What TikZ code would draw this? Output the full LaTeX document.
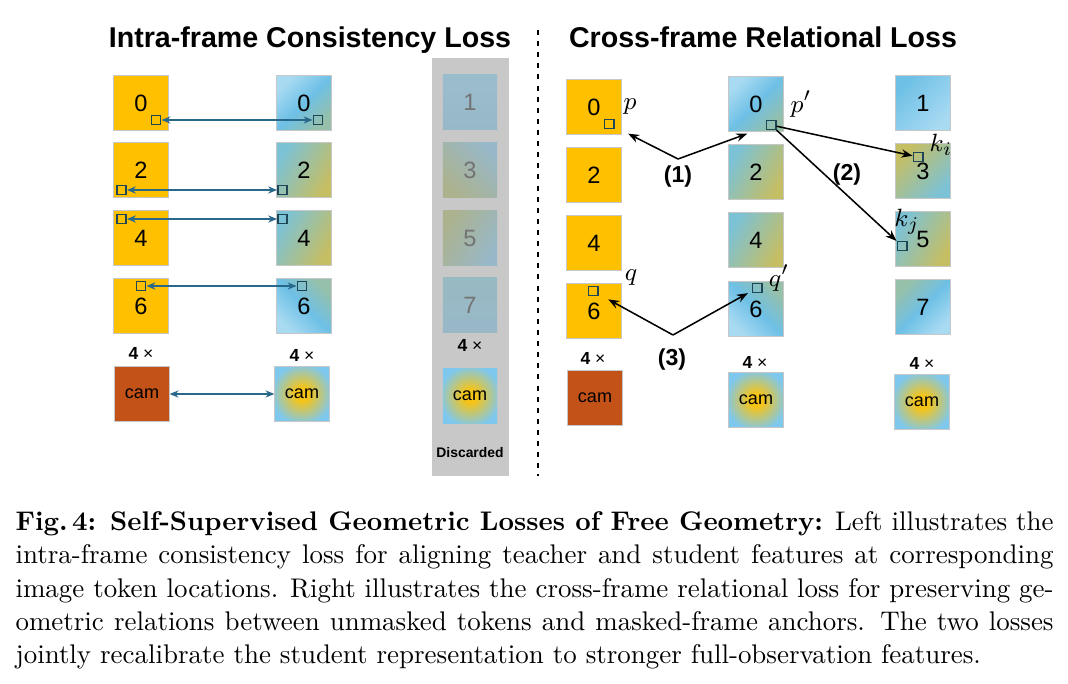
\documentclass[tikz,border=0pt]{standalone}
\usepackage{fontspec}
\setsansfont{Liberation Sans}
\usepackage{tikz}
\usetikzlibrary{arrows.meta}

\definecolor{gold}{RGB}{255,192,0}
\definecolor{rust}{RGB}{194,82,24}
\definecolor{skylight}{RGB}{168,218,242}
\definecolor{skymid}{RGB}{110,192,230}
\definecolor{tealmid}{RGB}{124,194,214}
\definecolor{olive}{RGB}{198,190,98}
\definecolor{sage}{RGB}{150,192,170}
\definecolor{camyellow}{RGB}{246,196,22}
\definecolor{camblue}{RGB}{126,200,238}
\definecolor{panelgray}{RGB}{200,200,200}
\definecolor{fadeblue}{RGB}{152,184,200}
\definecolor{fadeolive}{RGB}{172,178,142}
\definecolor{spotline}{RGB}{30,70,86}
\definecolor{pairblue}{RGB}{40,104,138}

\pgfdeclareradialshading{camglow}{\pgfpoint{0bp}{0bp}}{color(0bp)=(camyellow); color(6bp)=(camyellow); color(28bp)=(camblue); color(50bp)=(camblue)}

\begin{document}
\begin{tikzpicture}[x=0.36pt, y=-0.36pt,
  tile/.style={draw=black!22, line width=0.3pt, minimum size=19.6pt, inner sep=0pt,
    font=\sffamily\fontsize{8.5}{10}\selectfont},
  teacher/.style={tile, fill=gold},
  skytile/.style={tile, top color=skylight, bottom color=sage, middle color=skymid, shading angle=45},
  mixtile/.style={tile, top color=tealmid, bottom color=olive, shading angle=60},
  sagetile/.style={tile, top color=sage, bottom color=skylight, middle color=skymid, shading angle=-45},
  camtile/.style={tile, shade, shading=camglow, font=\sffamily\fontsize{6.5}{8}\selectfont},
  gone/.style={tile, draw=none, text=black!55},
  spot/.style={draw=spotline, line width=0.55pt, minimum size=3.4pt, inner sep=0pt},
  times/.style={font=\sffamily\fontsize{6.3}{7}\selectfont},
  pairarrow/.style={{Stealth[length=3.2pt,width=2.6pt]}-{Stealth[length=3.2pt,width=2.6pt]}, draw=pairblue, line width=0.5pt},
  relarrow/.style={-{Stealth[length=4pt,width=3pt]}, line width=0.55pt},
  steplabel/.style={font=\sffamily\bfseries\fontsize{8.3}{10}\selectfont},
  mlabel/.style={font=\fontsize{9.5}{11}\selectfont},
  title/.style={font=\sffamily\bfseries\fontsize{10.3}{12}\selectfont, anchor=base},
  caption/.style={anchor=north west, inner sep=0pt, text width=373.7pt, align=justify,
    font=\fontsize{9.7}{12}\selectfont}
]
\useasboundingbox (0,0) rectangle (1068,683);

%% Titles and divider
\node[title] (lefttitle) at (310,48) {Intra-frame Consistency Loss};
\node[title] (righttitle) at (763,48) {Cross-frame Relational Loss};
\draw[line width=0.75pt, dash pattern=on 1.8pt off 2.2pt] (538,30) -- (538,476);

%% Intra-frame: teacher column
\node[teacher] (t0) at (141,103) {0};
\node[teacher] (t2) at (141,170) {2};
\node[teacher] (t4) at (141,238) {4};
\node[teacher] (t6) at (141,306) {6};
\node[times] at (141,353) {\textbf{4} ×};
\node[tile, fill=rust] (tcam) at (142,394) {};
\node[font=\sffamily\fontsize{6.5}{8}\selectfont] at (tcam) {cam};

%% Intra-frame: student column
\node[skytile] (s0) at (304,103) {0};
\node[mixtile] (s2) at (304,170) {2};
\node[mixtile] (s4) at (304,238) {4};
\node[sagetile] (s6) at (304,306) {6};
\node[times] at (302,355) {\textbf{4} ×};
\node[camtile] (scam) at (302,394) {cam};

%% Discarded frames
\fill[panelgray] (432,58) rectangle (509,476);
\node[gone, top color=fadeblue!85!skylight, bottom color=fadeblue] (d1) at (470,102) {1};
\node[gone, top color=fadeblue, bottom color=fadeolive, shading angle=-45] (d3) at (470,170) {3};
\node[gone, top color=fadeolive, bottom color=fadeblue, shading angle=60] (d5) at (470,238) {5};
\node[gone, top color=fadeblue!80!sage, bottom color=fadeblue] (d7) at (470,305) {7};
\node[times] at (470,345) {\textbf{4} ×};
\node[camtile, draw=none] (dcam) at (470,396) {cam};
\node[font=\sffamily\bfseries\fontsize{5}{6}\selectfont] (dlabel) at (470,453) {Discarded};

%% Intra-frame token pairs
\node[spot] (ta0) at (156,120) {};
\node[spot] (sa0) at (318,120) {};
\node[spot] (ta2) at (121.5,190) {};
\node[spot] (sa2) at (282.5,190) {};
\node[spot] (ta4) at (121.5,219) {};
\node[spot] (sa4) at (282.5,219) {};
\node[spot] (ta6) at (141,286) {};
\node[spot] (sa6) at (302,286) {};
\draw[pairarrow] (ta0) -- (sa0);
\draw[pairarrow] (ta2) -- (sa2);
\draw[pairarrow] (ta4) -- (sa4);
\draw[pairarrow] (ta6) -- (sa6);
\draw[pairarrow] (tcam) -- (scam);

%% Cross-frame: teacher column
\node[teacher] (a0) at (594,107) {0};
\node[teacher] (a2) at (594,175) {2};
\node[teacher] (a4) at (594,243) {4};
\node[teacher] (a6) at (594,311) {6};
\node[times] at (593,358) {\textbf{4} ×};
\node[tile, fill=rust] (acam) at (595,398) {};
\node[font=\sffamily\fontsize{6.5}{8}\selectfont] at (acam) {cam};

%% Cross-frame: student columns
\node[skytile] (b0) at (756,104) {0};
\node[mixtile] (b2) at (756,172) {2};
\node[mixtile] (b4) at (756,240) {4};
\node[sagetile] (b6) at (756,309) {6};
\node[times] at (755,362) {\textbf{4} ×};
\node[camtile] (bcam) at (756,400) {cam};

\node[tile, top color=skymid, bottom color=skylight, shading angle=45] (c1) at (923,103) {1};
\node[tile, top color=tealmid, bottom color=olive, shading angle=-135] (c3) at (923,171) {3};
\node[mixtile] (c5) at (923,239) {5};
\node[tile, top color=sage, bottom color=skylight, middle color=skymid, shading angle=45] (c7) at (923,307) {7};
\node[times] at (922,363) {\textbf{4} ×};
\node[camtile] (ccam) at (922,402) {cam};

%% Cross-frame tokens
\node[spot] (p) at (609,124) {};
\node[spot] (pp) at (771,125) {};
\node[spot] (ki) at (918,157) {};
\node[spot] (kj) at (902,246) {};
\node[spot] (q) at (593,291) {};
\node[spot] (qp) at (757,288) {};
\node[mlabel] (plabel) at (630,107) {$p$};
\node[mlabel] (pplabel) at (801,104) {$p'$};
\node[mlabel] (kilabel) at (941,145) {$k_i$};
\node[mlabel] (kjlabel) at (907,222) {$k_j$};
\node[mlabel] (qlabel) at (631,278) {$q$};
\node[mlabel] (qplabel) at (779,278) {$q'$};

%% Relations (1) (2) (3)
\node[steplabel] (l1) at (678,177) {(1)};
\coordinate (c1tip) at (678,159);
\draw[relarrow, shorten >=5.5pt] (c1tip) -- (p);
\draw[relarrow, shorten >=7pt] (c1tip) -- (pp);
\node[steplabel] (l2) at (847,175) {(2)};
\draw[relarrow] (pp) -- (ki);
\draw[relarrow] (pp) -- (kj);
\node[steplabel] (l3) at (672,360) {(3)};
\coordinate (c3tip) at (673,335);
\draw[relarrow, shorten >=4pt] (c3tip) -- (q);
\draw[relarrow, shorten >=1.5pt] (c3tip) -- (qp);

%% Caption
\node[caption] (cap) at (15,511) {\textbf{Fig.\,4: Self-Supervised Geometric Losses of Free Geometry:} Left illustrates the\linebreak intra-frame consistency loss for aligning teacher and student features at corresponding\linebreak image token locations. Right illustrates the cross-frame relational loss for preserving ge-\linebreak ometric relations between unmasked tokens and masked-frame anchors. The two losses\linebreak jointly recalibrate the student representation to stronger full-observation features.};
\end{tikzpicture}
\end{document}
